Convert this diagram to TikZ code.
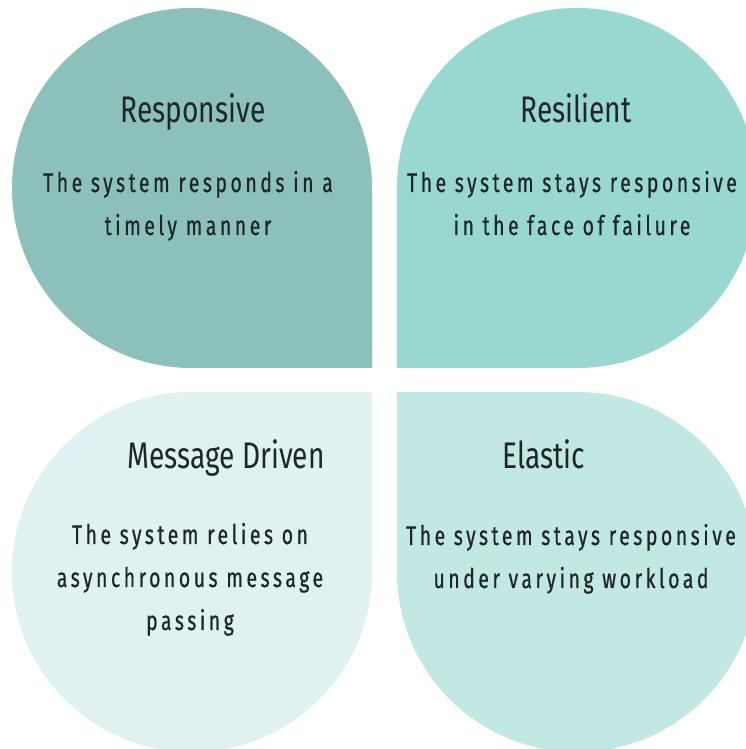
\documentclass[tikz,border=0pt]{standalone}
\usepackage{fontspec}
\setmainfont{Fira Sans}[FakeStretch=0.76]
\newfontfamily\bodyfont{Fira Sans}[FakeStretch=0.72,LetterSpace=13,FakeBold=0.6]
\usepackage{tikz}
\definecolor{respcol}{RGB}{140,193,187}
\definecolor{resicol}{RGB}{152,216,208}
\definecolor{msgcol}{RGB}{223,241,240}
\definecolor{elascol}{RGB}{194,232,228}
\definecolor{txtcol}{RGB}{30,38,38}
\tikzset{%
  petal/.style = {draw=none},
  head/.style = {anchor=base,inner sep=0pt,text=txtcol,
        font=\fontsize{37}{42}\selectfont},
  % base of a body node = baseline of its last line
  body/.style = {anchor=base,inner sep=0pt,text=txtcol,align=center,
        font=\bodyfont\fontsize{27}{43}\selectfont}
}
\begin{document}
\begin{tikzpicture}[x=1pt,y=1pt]
  \useasboundingbox (0,0) rectangle (746,749);
  \clip (0,0) rectangle (746,749);
  % petals
  \fill[petal,respcol] (372,381) -- (372,561)
        arc[start angle=0,end angle=270,radius=180] -- cycle;
  \fill[petal,resicol] (397,381) -- (577,381)
        arc[start angle=-90,end angle=180,radius=180] -- cycle;
  \fill[petal,msgcol] (372,357) -- (192,357)
        arc[start angle=90,end angle=360,radius=180] -- cycle;
  \fill[petal,elascol] (397,357) -- (397,177)
        arc[start angle=180,end angle=450,radius=180] -- cycle;
  % texts
  \node[head] (resp) at (193,626) {Responsive};
  \node[body] (respt) at (188,514) {The system responds in a\\timely manner};
  \node[head] (resi) at (576,626) {Resilient};
  \node[body] (resit) at (572,514) {The system stays responsive\\in the face of failure};
  \node[head] (msg) at (226,280) {Message Driven};
  \node[body] (msgt) at (190,119) {The system relies on\\asynchronous message\\passing};
  \node[head] (elas) at (544,280) {Elastic};
  \node[body] (elast) at (571,161) {The system stays responsive\\under varying workload};
\end{tikzpicture}
\end{document}
